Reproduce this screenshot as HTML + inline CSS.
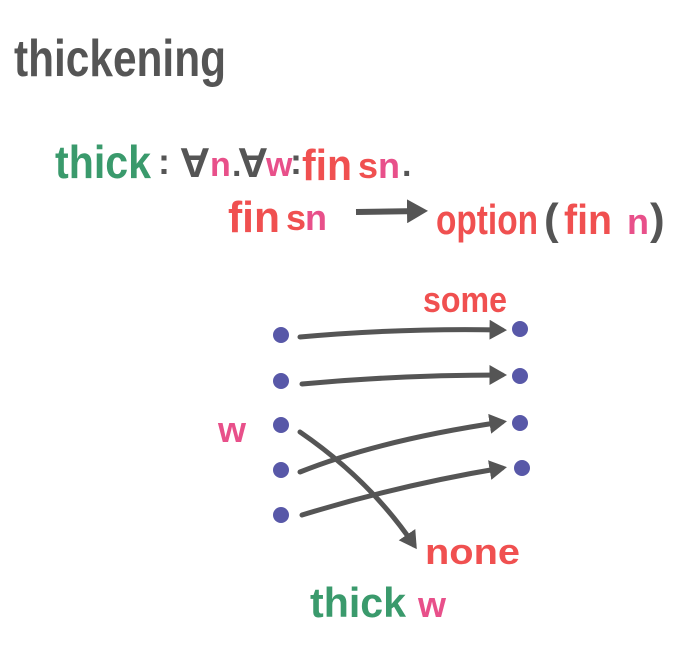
<!DOCTYPE html>
<html><head><style>
body{margin:0;background:#fff}
svg{display:block}
text{font-family:"Liberation Sans Narrow","Liberation Sans",sans-serif;font-weight:bold}
</style></head><body>
<svg width="691" height="647" viewBox="0 0 691 647" xmlns="http://www.w3.org/2000/svg">
<defs><marker id="a" markerWidth="4" markerHeight="4" refX="2.5" refY="2" orient="auto" markerUnits="strokeWidth"><path d="M0,0 L3.5,2 L0,4 Z" fill="#555"/></marker></defs>
<text x="14" y="76" font-size="52" fill="#555" textLength="212" lengthAdjust="spacingAndGlyphs">thickening</text>
<text x="55" y="178" font-size="46" fill="#3a9a6c" textLength="96" lengthAdjust="spacingAndGlyphs">thick</text>
<text x="158" y="174" font-size="36" fill="#555">:</text>
<text x="182" y="176" font-size="42" fill="#555" transform="rotate(180 196 162)">A</text>
<text x="210" y="176" font-size="34" fill="#e8508a">n</text>
<text x="232" y="176" font-size="34" fill="#555">.</text>
<text x="240" y="176" font-size="42" fill="#555" transform="rotate(180 254 162)">A</text>
<text x="266" y="176" font-size="34" fill="#e8508a">w</text>
<text x="290" y="174" font-size="36" fill="#555">:</text>
<text x="302" y="180" font-size="44" fill="#f05050" textLength="50" lengthAdjust="spacingAndGlyphs">fin</text>
<text x="358" y="178" font-size="36" fill="#f05050">s</text>
<text x="378" y="178" font-size="36" fill="#e8508a">n</text>
<text x="402" y="176" font-size="34" fill="#555">.</text>
<text x="228" y="232" font-size="44" fill="#f05050" textLength="52" lengthAdjust="spacingAndGlyphs">fin</text>
<text x="286" y="230" font-size="36" fill="#f05050">s</text>
<text x="305" y="230" font-size="36" fill="#e8508a">n</text>
<line x1="356" y1="212" x2="422" y2="211" stroke="#555" stroke-width="6" marker-end="url(#a)"/>
<text x="436" y="234" font-size="42" fill="#f05050" textLength="102" lengthAdjust="spacingAndGlyphs">option</text>
<text x="544" y="234" font-size="44" fill="#555">(</text>
<text x="564" y="234" font-size="42" fill="#f05050" textLength="48" lengthAdjust="spacingAndGlyphs">fin</text>
<text x="627" y="234" font-size="36" fill="#e8508a">n</text>
<text x="650" y="234" font-size="44" fill="#555">)</text>
<text x="423" y="312" font-size="36" fill="#f05050" textLength="84" lengthAdjust="spacingAndGlyphs">some</text>
<text x="218" y="442" font-size="36" fill="#e8508a">w</text>
<text x="425" y="564" font-size="36" fill="#f05050" textLength="95" lengthAdjust="spacingAndGlyphs">none</text>
<text x="310" y="617" font-size="42" fill="#3a9a6c" textLength="96" lengthAdjust="spacingAndGlyphs">thick</text>
<text x="418" y="617" font-size="36" fill="#e8508a">w</text>
<g fill="#5858a8">
<circle cx="281" cy="335" r="8"/><circle cx="281" cy="381" r="8"/><circle cx="281" cy="425" r="8"/><circle cx="281" cy="470" r="8"/><circle cx="281" cy="515" r="8"/>
<circle cx="520" cy="329" r="8"/><circle cx="520" cy="376" r="8"/><circle cx="520" cy="423" r="8"/><circle cx="522" cy="468" r="8"/>
</g>
<g stroke="#555" stroke-width="5" fill="none" stroke-linecap="round" marker-end="url(#a)">
<path d="M300,337 Q400,328 502,330"/>
<path d="M302,384 Q400,375 502,375"/>
<path d="M300,472 Q380,440 502,422"/>
<path d="M302,515 Q400,485 502,468"/>
<path d="M300,432 Q370,480 414,545"/>
</g>
</svg>
</body></html>
